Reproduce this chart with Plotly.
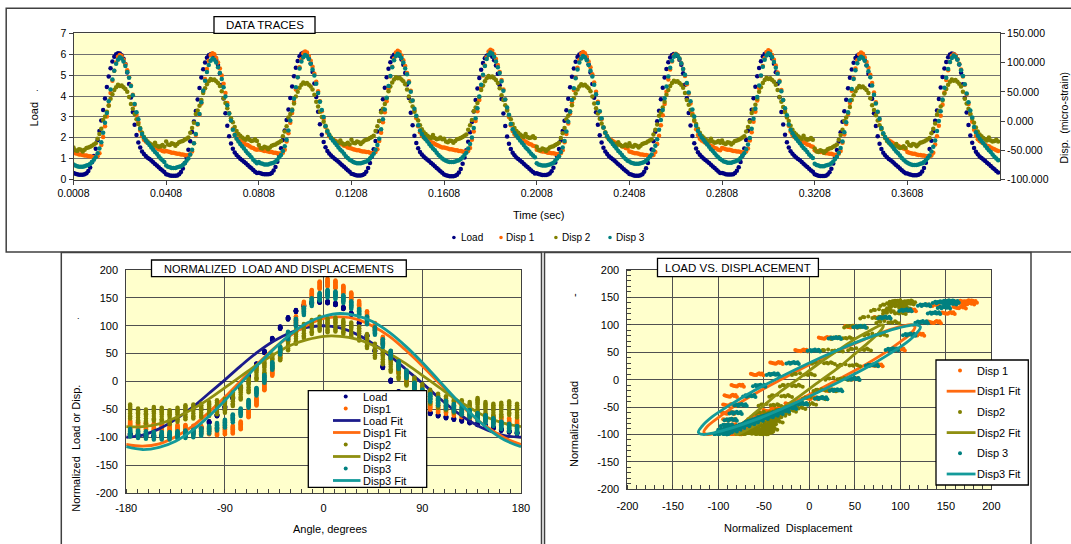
import numpy as np
import plotly.graph_objects as go

W, H = 1071, 544
FONT = "Liberation Sans, Arial, sans-serif"

# ---------------------------------------------------------------- data
SAMPLE_DT = 0.0008          # s between samples

# one load cycle (50 samples per cycle)
load_cycle = [0.28, 0.25, 0.22, 0.20, 0.20, 0.20, 0.22, 0.27, 0.38, 0.55,
              0.80, 1.10, 1.45, 1.85, 2.30, 2.80, 3.30, 3.85, 4.40, 4.90,
              5.30, 5.62, 5.85, 5.97, 6.02, 6.00, 5.92, 5.75, 5.50, 5.10,
              4.55, 3.90, 3.20, 2.60, 2.10, 1.75, 1.50, 1.32, 1.20, 1.10,
              1.02, 0.95, 0.88, 0.80, 0.72, 0.64, 0.56, 0.48, 0.40, 0.33]
# displacement gauges, micro-strain
disp1_cycle = [-50, -51, -52, -53, -53, -54, -55, -55, -56, -56,
               -57, -58, -57, -56, -51, -37, -23, -5, 12, 31,
               52, 73, 90, 104, 114, 117, 115, 109, 101, 91,
               79, 65, 49, 32, 15, 2, -12, -22, -28, -31,
               -33, -35, -37, -39, -40, -42, -44, -45, -47, -48]
disp2_cycle = [-39, -44, -45, -42, -43, -46, -43, -40, -39, -38,
               -36, -34, -32, -24, -16, -7, 8, 14, 22, 32,
               44, 52, 59, 64, 68, 66, 67, 64, 61, 56,
               47, 35, 27, 18, 9, 1, -6, -14, -21, -26,
               -29, -32, -34, -36, -31, -36, -38, -37, -35, -38]
disp3_cycle = [-71, -73, -74, -75, -75, -75, -74, -73, -72, -70,
               -67, -63, -59, -52, -44, -33, -17, 0, 17, 37,
               57, 74, 89, 101, 108, 112, 110, 105, 97, 87,
               77, 63, 47, 32, 18, 6, -10, -19, -25, -30,
               -34, -38, -42, -46, -50, -53, -57, -61, -64, -67]

# cycle-to-cycle level changes over the ten recorded cycles
load_shift = [0.03, -0.02, 0.05, 0.00, -0.04, 0.02, -0.01, 0.04, -0.03, 0.01]
disp1_shift = [-4, -1, 2, 3, 5, 1, -2, 4, 0, -3]
disp2_shift = [-6, 4, -2, 7, 9, -5, 1, 6, -8, 3]
disp3_shift = [-3, -5, 1, 3, 5, -1, 2, 4, -2, 0]

# normalisation (offset, units per normalised unit)
load_norm = (2.57, 0.02416)
disp1_norm = (1.2, 0.656)
disp2_norm = (-2.0, 0.68)
disp3_norm = (-3.5, 0.734)

# fitted curves, sampled every 15 degrees
fit_angle = [-180, -165, -150, -135, -120, -105, -90, -75, -60, -45, -30, -15, 0,
             15, 30, 45, 60, 75, 90, 105, 120, 135, 150, 165, 180]
load_fit = [-100, -96, -85, -68, -47, -22, 3, 29, 53, 73, 88, 97, 100,
            96, 85, 68, 47, 22, -3, -29, -53, -73, -88, -97, -100]
disp1_fit = [-113, -116, -112, -99, -81, -56, -28, 2, 32, 60, 83, 101, 113,
             116, 112, 99, 81, 56, 28, -2, -32, -60, -83, -101, -113]
disp2_fit = [-81, -81, -76, -65, -50, -32, -11, 10, 31, 49, 65, 75, 81,
             81, 76, 65, 50, 32, 11, -10, -31, -49, -65, -75, -81]
disp3_fit = [-117, -122, -118, -107, -88, -63, -34, -2, 30, 59, 85, 105, 117,
             122, 118, 107, 88, 63, 34, 2, -30, -59, -85, -105, -117]

# tick labels
time_ticks = [0.0008, 0.0408, 0.0808, 0.1208, 0.1608, 0.2008, 0.2408, 0.2808, 0.3208, 0.3608]
load_ticks = [0, 1, 2, 3, 4, 5, 6, 7]
strain_ticks = [-100, -50, 0, 50, 100, 150]
angle_ticks = [-180, -90, 0, 90, 180]
norm_ticks = [-200, -150, -100, -50, 0, 50, 100, 150, 200]

# ---------------------------------------------------------------- series
def record(cycle, shift):
    base = np.asarray(cycle, dtype=float)
    return np.concatenate([base + s for s in shift])

load = record(load_cycle, load_shift)
disp1 = record(disp1_cycle, disp1_shift)
disp2 = record(disp2_cycle, disp2_shift)
disp3 = record(disp3_cycle, disp3_shift)

n_cycle = len(load_cycle)
idx = np.arange(len(load))
time = SAMPLE_DT * (idx + 1)
angle = -180 + 360 * ((idx % n_cycle) + 0.5) / n_cycle

def normalise(v, norm):
    return (v - norm[0]) / norm[1]

load_n = normalise(load, load_norm)
disp1_n = normalise(disp1, disp1_norm)
disp2_n = normalise(disp2, disp2_norm)
disp3_n = normalise(disp3, disp3_norm)

NAVY, ORANGE, OLIVE, TEAL = "#000080", "#FF6600", "#808000", "#008080"
NAVY_L, ORANGE_L, OLIVE_L, TEAL_L = "#1c1c8c", "#ff6a10", "#8f8f10", "#139a9a"

fig = go.Figure()

# DATA TRACES
fig.add_trace(go.Scatter(x=time, y=load, mode="markers", name="Load",
                         marker=dict(size=4.5, color=NAVY), xaxis="x", yaxis="y"))
for series, col, nm in [(disp1, ORANGE, "Disp 1"), (disp2, OLIVE, "Disp 2"), (disp3, TEAL, "Disp 3")]:
    fig.add_trace(go.Scatter(x=time, y=series, mode="markers", name=nm,
                             marker=dict(size=4.5, color=col), xaxis="x", yaxis="y2"))

# NORMALIZED LOAD AND DISPLACEMENTS
def dots(y, col, nm, xa, ya, x=None, size=4.5):
    return go.Scatter(x=angle if x is None else x, y=y, mode="markers", name=nm,
                      marker=dict(size=size, color=col), xaxis=xa, yaxis=ya)

def curve(x, y, col, nm, xa, ya):
    return go.Scatter(x=x, y=y, mode="lines", name=nm, line=dict(color=col, width=2.8, shape="spline"),
                      xaxis=xa, yaxis=ya)

fig.add_trace(dots(load_n, NAVY, "Load", "x3", "y3"))
fig.add_trace(dots(disp1_n, ORANGE, "Disp1", "x3", "y3"))
fig.add_trace(curve(fit_angle, load_fit, NAVY_L, "Load Fit", "x3", "y3"))
fig.add_trace(curve(fit_angle, disp1_fit, ORANGE_L, "Disp1 Fit", "x3", "y3"))
fig.add_trace(dots(disp2_n, OLIVE, "Disp2", "x3", "y3"))
fig.add_trace(curve(fit_angle, disp2_fit, OLIVE_L, "Disp2 Fit", "x3", "y3"))
fig.add_trace(dots(disp3_n, TEAL, "Disp3", "x3", "y3"))
fig.add_trace(curve(fit_angle, disp3_fit, TEAL_L, "Disp3 Fit", "x3", "y3"))

# LOAD VS. DISPLACEMENT
fig.add_trace(dots(load_n, ORANGE, "Disp 1", "x4", "y4", x=disp1_n, size=4))
fig.add_trace(curve(disp1_fit, load_fit, ORANGE_L, "Disp1 Fit", "x4", "y4"))
fig.add_trace(dots(load_n, OLIVE, "Disp2", "x4", "y4", x=disp2_n, size=4))
fig.add_trace(curve(disp2_fit, load_fit, OLIVE_L, "Disp2 Fit", "x4", "y4"))
fig.add_trace(dots(load_n, TEAL, "Disp 3", "x4", "y4", x=disp3_n, size=4))
fig.add_trace(curve(disp3_fit, load_fit, TEAL_L, "Disp3 Fit", "x4", "y4"))

# ---------------------------------------------------------------- layout helpers
def fx(p):
    return p / W

def fy(p):
    return 1 - p / H

LINE = "#404040"
GRID = "#505050"

def labels(vals, fmt="{:g}"):
    return [fmt.format(v) for v in vals]

common = dict(showline=True, linecolor=LINE, linewidth=1, zeroline=False, automargin=False,
              tickfont=dict(size=11, color="black"), tickcolor=LINE)

layout = dict(
    width=W, height=H, autosize=False,
    margin=dict(l=0, r=0, t=0, b=0, pad=0, autoexpand=False),
    paper_bgcolor="white", plot_bgcolor="#FFFFCC",
    font=dict(family=FONT, size=11, color="black"),
    showlegend=False,
    xaxis=dict(common, domain=[fx(73.5), fx(1000)], anchor="y", range=[0.0008, 0.4008],
               tickmode="array", tickvals=time_ticks, ticktext=labels(time_ticks, "{:.4f}"),
               ticks="outside", ticklen=4, showgrid=False, mirror=True,
               tickfont=dict(size=10.5, color="black")),
    yaxis=dict(common, domain=[fy(179.6), fy(33.3)], anchor="x", range=[0, 7],
               tickmode="array", tickvals=load_ticks, ticktext=labels(load_ticks),
               ticks="outside", ticklen=4, showgrid=True, gridcolor="#707070", gridwidth=1,
               tickfont=dict(size=10.5, color="black")),
    yaxis2=dict(common, overlaying="y", side="right", anchor="x", range=[-100, 150],
                tickmode="array", tickvals=strain_ticks, ticktext=labels(strain_ticks, "{:.3f}"),
                ticks="outside", ticklen=4, showgrid=False,
                tickfont=dict(size=10.5, color="black")),
    xaxis3=dict(common, domain=[fx(126.2), fx(521)], anchor="y3", range=[-180, 180],
                tickmode="array", tickvals=angle_ticks, ticktext=labels(angle_ticks),
                ticks="outside", ticklen=5, tickcolor="rgba(0,0,0,0)", mirror=True,
                showgrid=True, gridcolor=GRID, gridwidth=1,
                minor=dict(tickmode="linear", tick0=-180, dtick=10, ticks="inside",
                           ticklen=4, tickcolor=LINE, showgrid=False)),
    yaxis3=dict(common, domain=[fy(493), fy(270)], anchor="x3", range=[-200, 200],
                tickmode="array", tickvals=norm_ticks, ticktext=labels(norm_ticks),
                ticks="outside", ticklen=5, tickcolor="rgba(0,0,0,0)", mirror=True,
                showgrid=True, gridcolor=GRID, gridwidth=1),
    xaxis4=dict(common, domain=[fx(627.4), fx(991.4)], anchor="y4", range=[-200, 200],
                tickmode="array", tickvals=norm_ticks, ticktext=labels(norm_ticks),
                ticks="outside", ticklen=6, tickcolor="rgba(0,0,0,0)", mirror=True,
                showgrid=True, gridcolor=GRID, gridwidth=1,
                minor=dict(tickmode="linear", tick0=-200, dtick=10, ticks="inside",
                           ticklen=4, tickcolor=LINE, showgrid=False)),
    yaxis4=dict(common, domain=[fy(489.3), fy(270)], anchor="x4", range=[-200, 200],
                tickmode="array", tickvals=norm_ticks, ticktext=labels(norm_ticks),
                ticks="outside", ticklen=5, tickcolor="rgba(0,0,0,0)", mirror=True,
                showgrid=True, gridcolor=GRID, gridwidth=1,
                minor=dict(tickmode="linear", tick0=-200, dtick=10, ticks="inside",
                           ticklen=4, tickcolor=LINE, showgrid=False)),
)

shapes = []
annotations = []

def rect(x0, y0, x1, y1, line=LINE, width=1.5, fill=None):
    shapes.append(dict(type="rect", xref="paper", yref="paper",
                       x0=fx(x0), x1=fx(x1), y0=fy(y1), y1=fy(y0),
                       line=dict(color=line, width=width),
                       fillcolor=fill if fill else "rgba(0,0,0,0)", layer="above"))

def text(x, y, s, size=11, angle=0, anchor="center", color="black"):
    annotations.append(dict(xref="paper", yref="paper", x=fx(x), y=fy(y), text=s,
                            showarrow=False, textangle=angle, xanchor=anchor, yanchor="middle",
                            font=dict(family=FONT, size=size, color=color)))

def dot(x, y, col, r=2.2):
    shapes.append(dict(type="circle", xref="paper", yref="paper",
                       x0=fx(x - r), x1=fx(x + r), y0=fy(y + r), y1=fy(y - r),
                       line=dict(width=0), fillcolor=col, layer="above"))

def seg(x0, x1, y, col, width=2.8):
    shapes.append(dict(type="line", xref="paper", yref="paper",
                       x0=fx(x0), x1=fx(x1), y0=fy(y), y1=fy(y),
                       line=dict(color=col, width=width), layer="above"))

# panel frames
rect(6.2, 8.3, 1085, 252)
rect(61.3, 252.5, 541.5, 560)
rect(544.5, 252.5, 1031, 560)

# panel titles
rect(214, 16.7, 315, 33.3, line="black", width=1.3, fill="white")
text(264.5, 25.2, "DATA TRACES", size=11.5)
rect(151.5, 260, 406.3, 276.7, line="black", width=1.3, fill="white")
text(279, 268.5, "NORMALIZED  LOAD AND DISPLACEMENTS", size=11)
rect(657.5, 258.3, 818.4, 276.7, line="black", width=1.3, fill="white")
text(738, 267.7, "LOAD VS. DISPLACEMENT", size=11.5)

# axis titles
text(34.4, 114, "Load", angle=-90)
text(37, 88, ".", size=9)
text(539, 215, "Time (sec)")
text(1063.5, 118, "Disp.  (micro-strain)", size=10.5, angle=-90)
text(75.8, 448, "Normalized  Load or Disp.", angle=-90)
text(78.5, 316, ".", size=9)
text(330, 529, "Angle, degrees")
text(574, 424, "Normalized  Load", angle=-90)
text(574, 295, "-", angle=-90)
text(788, 528, "Normalized  Displacement")

# legend of the time traces
for bx, tx, col, nm in [(453.9, 458.5, NAVY, "Load"), (501, 503.5, ORANGE, "Disp 1"),
                        (555.9, 560, OLIVE, "Disp 2"), (610, 613.5, TEAL, "Disp 3")]:
    dot(bx, 237.5, col, r=1.8)
    text(tx, 237.3, nm, size=10, anchor="left")

# legend of the normalised traces
rect(308.3, 390.7, 426.7, 487.3, line="black", width=1.3, fill="white")
entries = [("dot", NAVY, "Load"), ("dot", ORANGE, "Disp1"), ("line", NAVY_L, "Load Fit"),
           ("line", ORANGE_L, "Disp1 Fit"), ("dot", OLIVE, "Disp2"), ("line", OLIVE_L, "Disp2 Fit"),
           ("dot", TEAL, "Disp3"), ("line", TEAL_L, "Disp3 Fit")]
for k, (kind, col, nm) in enumerate(entries):
    yy = 396.5 + 12 * k
    if kind == "dot":
        dot(345.7, yy, col, r=2)
    else:
        seg(333, 360.5, yy, col)
    text(360.5, yy, nm, size=11, anchor="left")

# legend of the load–displacement loops
rect(936, 360, 1028.3, 485, line="black", width=1.3, fill="white")
entries = [("dot", ORANGE, "Disp 1"), ("line", ORANGE_L, "Disp1 Fit"), ("dot", OLIVE, "Disp2"),
           ("line", OLIVE_L, "Disp2 Fit"), ("dot", TEAL, "Disp 3"), ("line", TEAL_L, "Disp3 Fit")]
for k, (kind, col, nm) in enumerate(entries):
    yy = 370.5 + 20.7 * k
    if kind == "dot":
        dot(960, yy, col, r=2)
    else:
        seg(946.7, 975.5, yy, col)
    text(975, yy, nm, size=11, anchor="left")

layout["shapes"] = shapes
layout["annotations"] = annotations
fig.update_layout(layout)

fig.write_html("out.html")
